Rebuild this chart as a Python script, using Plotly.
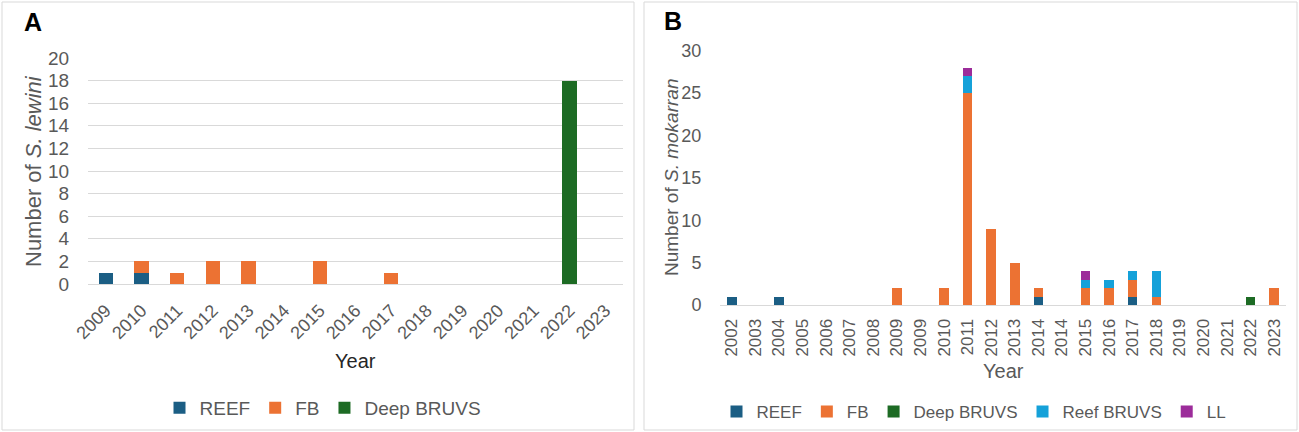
import plotly.graph_objects as go

W, H = 1299, 432

# ---------------- Panel A data ----------------
years_a = ["2009", "2010", "2011", "2012", "2013", "2014", "2015", "2016",
           "2017", "2018", "2019", "2020", "2021", "2022", "2023"]
reef_a = [1, 1, 0, 0, 0, 0, 0, 0, 0, 0, 0, 0, 0, 0, 0]
fb_a = [0, 1, 1, 2, 2, 0, 2, 0, 1, 0, 0, 0, 0, 0, 0]
deep_a = [0, 0, 0, 0, 0, 0, 0, 0, 0, 0, 0, 0, 0, 18, 0]
yticks_a = [0, 2, 4, 6, 8, 10, 12, 14, 16, 18, 20]

# ---------------- Panel B data ----------------
years_b = ["2002", "2003", "2004", "2005", "2006", "2007", "2008", "2009",
           "2009", "2010", "2011", "2012", "2013", "2014", "2014", "2015",
           "2016", "2017", "2018", "2019", "2020", "2021", "2022", "2023"]
reef_b = [1, 0, 1, 0, 0, 0, 0, 0, 0, 0, 0, 0, 0, 1, 0, 0, 0, 1, 0, 0, 0, 0, 0, 0]
fb_b = [0, 0, 0, 0, 0, 0, 0, 2, 0, 2, 25, 9, 5, 1, 0, 2, 2, 2, 1, 0, 0, 0, 0, 2]
deep_b = [0, 0, 0, 0, 0, 0, 0, 0, 0, 0, 0, 0, 0, 0, 0, 0, 0, 0, 0, 0, 0, 0, 1, 0]
reefbruvs_b = [0, 0, 0, 0, 0, 0, 0, 0, 0, 0, 2, 0, 0, 0, 0, 1, 1, 1, 3, 0, 0, 0, 0, 0]
ll_b = [0, 0, 0, 0, 0, 0, 0, 0, 0, 0, 1, 0, 0, 0, 0, 1, 0, 0, 0, 0, 0, 0, 0, 0]
yticks_b = [0, 5, 10, 15, 20, 25, 30]

C_REEF = "#1b5e84"
C_FB = "#ec7233"
C_DEEP = "#1d6b24"
C_RBRUVS = "#15a1d9"
C_LL = "#9c2c9a"

GRAY = "#595959"
FONT = "Liberation Sans"

def px(x):
    return x / W

def py(y):
    return (H - y) / H

fig = go.Figure()

# Panel A traces
for name, vals, col in [("REEF", reef_a, C_REEF), ("FB", fb_a, C_FB), ("Deep BRUVS", deep_a, C_DEEP)]:
    fig.add_trace(go.Bar(x=years_a, y=vals, name=name, marker_color=col, marker_line_width=0,
                         xaxis="x", yaxis="y", legend="legend"))

# Panel B traces
pos_b = list(range(len(years_b)))
for name, vals, col in [("REEF", reef_b, C_REEF), ("FB", fb_b, C_FB), ("Deep BRUVS", deep_b, C_DEEP),
                        ("Reef BRUVS", reefbruvs_b, C_RBRUVS), ("LL", ll_b, C_LL)]:
    fig.add_trace(go.Bar(x=pos_b, y=vals, name=name, marker_color=col, marker_line_width=0,
                         xaxis="x2", yaxis="y2", legend="legend2"))

fig.update_layout(
    width=W, height=H,
    margin=dict(l=0, r=0, t=0, b=0, pad=0, autoexpand=False),
    paper_bgcolor="white", plot_bgcolor="white",
    barmode="stack", bargap=0.6,
    font=dict(family=FONT, color=GRAY),
    xaxis=dict(domain=[px(88), px(623)], type="category", anchor="y", automargin=False,
               tickangle=-45, tickfont=dict(size=18, color=GRAY),
               ticks="outside", ticklen=8, tickcolor="rgba(0,0,0,0)",
               showline=False, showgrid=False),
    yaxis=dict(domain=[py(284), py(58)], range=[0, 20], anchor="x", automargin=False,
               tickvals=yticks_a, tickfont=dict(size=19, color=GRAY),
               ticks="outside", ticklen=14, tickcolor="rgba(0,0,0,0)",
               showgrid=True, gridcolor="#d9d9d9", gridwidth=1, zeroline=True,
               zerolinecolor="#d9d9d9", zerolinewidth=1, showline=False),
    xaxis2=dict(domain=[px(720), px(1286)], anchor="y2", range=[-0.5, len(years_b) - 0.5],
                automargin=False,
                tickvals=pos_b, ticktext=years_b, tickangle=-90,
                tickfont=dict(size=17, color=GRAY),
                ticks="outside", ticklen=6, tickcolor="rgba(0,0,0,0)",
                showgrid=False, showline=True, linecolor="#d9d9d9", linewidth=1, zeroline=False),
    yaxis2=dict(domain=[py(305), py(50.7)], range=[0, 30], anchor="x2", automargin=False,
                tickvals=yticks_b, tickfont=dict(size=18, color=GRAY),
                ticks="outside", ticklen=14, tickcolor="rgba(0,0,0,0)",
                showgrid=False, zeroline=False, showline=False),
    legend=dict(orientation="h", x=px(323), xanchor="center", y=py(408), yanchor="middle",
                font=dict(size=19, color=GRAY), traceorder="normal", bgcolor="rgba(0,0,0,0)",
                itemwidth=30, tracegroupgap=0),
    legend2=dict(orientation="h", x=px(974), xanchor="center", y=py(412), yanchor="middle",
                 font=dict(size=17, color=GRAY), traceorder="normal", bgcolor="rgba(0,0,0,0)",
                 itemwidth=30, tracegroupgap=0),
    shapes=[
        dict(type="rect", xref="paper", yref="paper", x0=px(2), x1=px(634), y0=py(430), y1=py(2),
             line=dict(color="#d9d9d9", width=1)),
        dict(type="rect", xref="paper", yref="paper", x0=px(644), x1=px(1297), y0=py(430), y1=py(2),
             line=dict(color="#d9d9d9", width=1)),
    ],
    annotations=[
        dict(text="<b>A</b>", x=px(22), y=py(22), xref="paper", yref="paper", xanchor="left",
             yanchor="middle", showarrow=False, font=dict(size=25, color="black", family=FONT)),
        dict(text="<b>B</b>", x=px(662), y=py(21), xref="paper", yref="paper", xanchor="left",
             yanchor="middle", showarrow=False, font=dict(size=25, color="black", family=FONT)),
        dict(text="Number of <i>S. lewini</i>", x=px(33), y=py(171), xref="paper", yref="paper",
             xanchor="center", yanchor="middle", textangle=-90, showarrow=False,
             font=dict(size=22, color=GRAY)),
        dict(text="Number of <i>S. mokarran</i>", x=px(671), y=py(178), xref="paper", yref="paper",
             xanchor="center", yanchor="middle", textangle=-90, showarrow=False,
             font=dict(size=19, color=GRAY)),
        dict(text="Year", x=px(355.5), y=py(361), xref="paper", yref="paper",
             xanchor="center", yanchor="middle", showarrow=False,
             font=dict(size=20, color="#262626")),
        dict(text="Year", x=px(1003.5), y=py(371), xref="paper", yref="paper",
             xanchor="center", yanchor="middle", showarrow=False,
             font=dict(size=20, color=GRAY)),
    ],
)

fig.write_html("out.html", config={"displayModeBar": False},
               post_script="document.body.style.margin='0';")
